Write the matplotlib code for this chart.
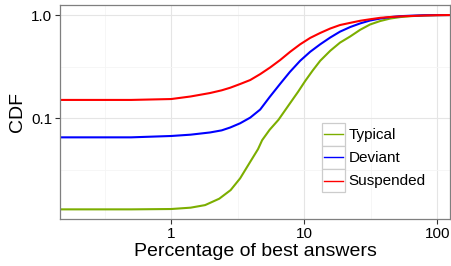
import matplotlib
matplotlib.use("Agg")
import matplotlib.pyplot as plt
from matplotlib.legend_handler import HandlerBase
from matplotlib.patches import Rectangle
from matplotlib.lines import Line2D
from matplotlib.ticker import FixedLocator, NullFormatter

plt.rcParams["font.family"] = ["Liberation Sans", "DejaVu Sans"]

# CDF of percentage of best answers
typical_x = [0.146, 0.5, 1.0, 1.4, 1.8, 2.3, 2.8, 3.3, 3.9, 4.5, 4.83, 5.5, 6.4, 7.85, 9.0, 10.2,
             11.6, 13.2, 15.7, 18.6, 22.2, 26.4, 31.3, 37.3, 44.4, 52.6, 62.7, 80, 100, 125]
typical_y = [0.013, 0.013, 0.0131, 0.0135, 0.0143, 0.0165, 0.020, 0.026, 0.037, 0.050, 0.061, 0.077,
             0.096, 0.14, 0.18, 0.23, 0.29, 0.36, 0.45, 0.54, 0.62, 0.72, 0.81, 0.875, 0.925, 0.955,
             0.975, 0.99, 0.997, 1.0]

deviant_x = [0.146, 0.5, 1.0, 1.4, 1.96, 2.4, 2.78, 3.3, 3.93, 4.67, 5.5, 6.6, 7.8, 9.33, 11.1, 13.2,
             15.7, 18.6, 22.2, 26.4, 31.3, 37.3, 44.4, 52.6, 62.7, 80, 100, 125]
deviant_y = [0.065, 0.065, 0.067, 0.069, 0.0725, 0.076, 0.081, 0.089, 0.101, 0.121, 0.16, 0.215, 0.28,
             0.36, 0.44, 0.52, 0.605, 0.69, 0.765, 0.83, 0.885, 0.925, 0.955, 0.975, 0.985, 0.995,
             0.998, 1.0]

suspended_x = [0.146, 0.5, 1.0, 1.4, 1.96, 2.4, 2.78, 3.3, 3.93, 4.67, 5.55, 6.6, 7.85, 9.33, 11.1,
               13.2, 15.7, 18.6, 22.2, 26.4, 31.3, 37.3, 44.4, 52.6, 62.7, 80, 100, 125]
suspended_y = [0.15, 0.15, 0.153, 0.162, 0.175, 0.186, 0.197, 0.214, 0.234, 0.267, 0.31, 0.366, 0.44,
               0.52, 0.60, 0.67, 0.74, 0.80, 0.84, 0.88, 0.91, 0.94, 0.957, 0.97, 0.978, 0.99, 0.997, 1.0]

series = [
    ("Typical", typical_x, typical_y, "#7cae00"),
    ("Deviant", deviant_x, deviant_y, "#0000ff"),
    ("Suspended", suspended_x, suspended_y, "#ff0000"),
]


class BoxedLine(HandlerBase):
    # ggplot-like legend key: grey box with a line through it
    def create_artists(self, legend, orig_handle, xdescent, ydescent,
                       width, height, fontsize, trans):
        box = Rectangle((-xdescent, -ydescent), width, height,
                        facecolor="white", edgecolor="#cccccc", lw=0.9,
                        transform=trans)
        pad = width * 0.08
        yc = height / 2 - ydescent
        line = Line2D([-xdescent + pad, -xdescent + width - pad], [yc, yc],
                      color=orig_handle.get_color(), lw=1.0, transform=trans)
        return [box, line]


fig = plt.figure(figsize=(4.51, 2.66), dpi=100)
ax = fig.add_axes([0.133, 0.177, 0.865, 0.804])

lines = []
for name, xs, ys, color in series:
    (ln,) = ax.plot(xs, ys, color=color, lw=1.5, label=name)
    lines.append(ln)

ax.set_xscale("log")
ax.set_yscale("log")
ax.set_xlim(0.146, 125)
ax.set_ylim(0.0105, 1.25)

ax.xaxis.set_major_locator(FixedLocator([1, 10, 100]))
ax.xaxis.set_minor_locator(FixedLocator([10 ** -0.5, 10 ** 0.5, 10 ** 1.5]))
ax.yaxis.set_major_locator(FixedLocator([0.1, 1.0]))
ax.yaxis.set_minor_locator(FixedLocator([10 ** -1.5, 10 ** -0.5]))
ax.set_xticklabels(["1", "10", "100"])
ax.set_yticklabels(["0.1", "1.0"])
ax.xaxis.set_minor_formatter(NullFormatter())
ax.yaxis.set_minor_formatter(NullFormatter())

ax.grid(True, which="major", color="#e5e5e5", lw=0.8)
ax.grid(True, which="minor", color="#f5f5f5", lw=0.6)
ax.set_axisbelow(True)

ax.tick_params(which="major", direction="out", length=3.5, width=0.8,
               color="#333333", labelsize=11, pad=2, labelcolor="black")
ax.tick_params(which="minor", length=0)
for sp in ax.spines.values():
    sp.set_color("#7f7f7f")
    sp.set_linewidth(0.9)

ax.set_xlabel("Percentage of best answers", fontsize=14, labelpad=2)
ax.set_ylabel("CDF", fontsize=14, labelpad=4)

ax.legend(handles=lines, loc="upper left", bbox_to_anchor=(0.672, 0.449),
          frameon=False, fontsize=11, labelspacing=0, handlelength=1.51,
          handleheight=1.945, handletextpad=0.2, borderpad=0, borderaxespad=0,
          handler_map={Line2D: BoxedLine()})

fig.savefig("out.png", dpi=100)
